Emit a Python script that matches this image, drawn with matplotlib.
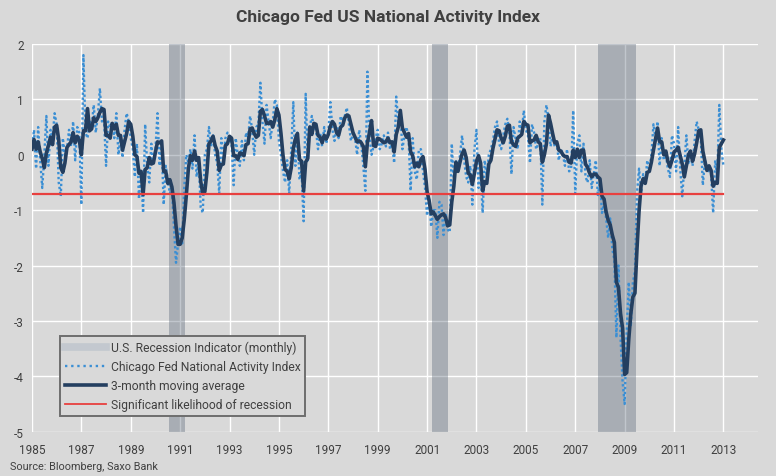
import numpy as np
import pandas as pd
import matplotlib
matplotlib.use('Agg')
import matplotlib.pyplot as plt
from matplotlib.lines import Line2D

# Chicago Fed National Activity Index, monthly from Jan 1985
cfnai_1985_1989 = [
    0.1, 0.45, -0.25, 0.5, -0.1, -0.6, 0.0, 0.7, -0.2, 0.45, 0.3, 0.75,
    0.55, -0.5, -0.75, 0.3, 0.0, 0.1, 0.45, 0.15, 0.6, -0.1, 0.5, 0.4,
    -0.9, 1.8, 0.4, 0.3, 0.6, 0.5, 0.9, 0.4, 0.7, 1.2, 0.6, 0.65,
    -0.2, 0.6, 0.5, 0.6, 0.3, 0.75, 0.0, 0.3, -0.05, 0.45, 0.75, 0.6,
    0.3, 0.1, -0.4, 0.2, -0.8, -0.3, -1.05, 0.55, -0.2, -0.5, 0.2, -0.15,
]
cfnai_1990_1999 = [
    0.1, 0.75, -0.2, 0.2, -0.9, -0.2, -0.45, -0.7, -0.6, -1.3, -1.95, -1.6,
    -1.3, -1.6, -0.6, 0.0, -0.15, 0.1, -0.25, 0.35, -0.4, -0.1, -0.95, -1.05,
    0.0, 0.1, 0.5, 0.15, 0.35, 0.0, -0.15, -0.7, 0.3, -0.1, 0.3, 0.4,
    0.3, 0.2, -0.55, 0.3, 0.0, -0.2, 0.25, -0.1, 0.4, 0.3, 0.7, 0.45,
    0.0, 0.5, 0.55, 1.3, 0.6, 0.2, 0.9, 0.6, 0.3, 0.6, 1.0, 0.9,
    0.25, 0.0, -0.3, -0.5, -0.1, -0.7, 0.1, 0.95, -0.2, 0.4, -0.45, -0.3,
    -1.2, 1.1, -0.1, 0.5, 0.7, 0.5, 0.45, 0.1, 0.4, 0.15, 0.5, 0.2,
    0.4, 0.95, 0.45, 0.25, 0.5, 0.3, 0.7, 0.6, 0.7, 0.85, 0.55, 0.25,
    0.4, 0.3, 0.0, 0.45, 0.2, -0.2, -0.65, 1.5, 0.35, 0.0, 0.15, 0.3,
    0.45, 0.1, 0.2, 0.35, 0.15, 0.4, 0.1, 0.2, -0.15, 1.05, 0.6, 0.75,
]
cfnai_2000_2009 = [
    0.1, 0.35, 0.5, 0.3, -0.65, 0.3, -0.3, -0.45, 0.1, 0.1, -0.3, -0.6,
    -1.1, -0.8, -1.3, -1.0, -1.0, -1.5, -0.85, -0.9, -1.45, -1.05, -1.35, -1.4,
    0.2, -0.5, -0.1, -0.3, 0.0, 0.35, -0.1, -0.4, -0.5, -0.2, -0.9, 0.1,
    0.45, -0.6, -0.3, -1.05, -0.1, -0.4, 0.0, 0.1, 0.25, 0.5, 0.6, 0.2,
    0.1, 0.35, 0.55, 0.65, 0.4, -0.35, 0.5, 0.3, 0.1, 0.6, 0.4, 0.8,
    0.45, 0.35, -0.15, 0.55, 0.4, 0.1, 0.2, 0.3, -0.9, 0.6, 0.9, 0.65,
    0.15, 0.35, 0.15, 0.2, -0.1, 0.1, 0.0, -0.2, 0.1, -0.3, -0.25, 0.8,
    -0.7, 0.2, 0.35, -0.3, 0.2, -0.4, -0.5, -0.1, -0.6, -0.35, -0.1, -0.75,
    -0.45, -1.05, -0.9, -1.15, -1.5, -1.15, -1.7, -1.9, -3.3, -2.0, -3.3, -4.1,
    -4.5, -3.2, -2.3, -3.1, -2.3, -2.1, -0.7, -0.25, -0.7, -0.35, -0.5, -0.1,
]
cfnai_2010_2013 = [
    -0.3, 0.0, 0.55, 0.3, 0.6, -0.2, 0.3, -0.1, 0.0, -0.25, -0.4, 0.35,
    0.2, -0.3, 0.5, -0.25, -0.75, -0.2, 0.35, -0.15, 0.0, -0.2, 0.25, 0.6,
    0.45, 0.3, -0.55, -0.1, -0.2, -0.3, -0.35, -1.05, -0.1, -0.4, 0.9, 0.1,
    -0.2,
]

# NBER recessions (decimal years)
rec_start = [1990.55, 2001.2, 2007.92]
rec_end = [1991.2, 2001.85, 2009.48]

threshold = -0.7
year_ticks = list(range(1985, 2014, 2))
y_ticks = list(range(-5, 3))

BG = '#d9d9d9'
TXT = '#404040'

plt.rcParams['font.family'] = ['Roboto', 'DejaVu Sans']
plt.rcParams['axes.unicode_minus'] = False

cfnai = pd.Series(cfnai_1985_1989 + cfnai_1990_1999 + cfnai_2000_2009 + cfnai_2010_2013)
ma3 = cfnai.rolling(3, min_periods=1).mean()
t = 1985 + np.arange(len(cfnai)) / 12.0

fig = plt.figure(figsize=(7.76, 4.77), dpi=100, facecolor=BG)
ax = fig.add_axes([0.0412, 0.0929, 0.9356, 0.8128])
ax.set_facecolor(BG)

for a, b in zip(rec_start, rec_end):
    ax.axvspan(a, b, color='#4e5d70', alpha=0.35, lw=0, zorder=1)

ax.plot(t, cfnai, color='#3b8fd4', lw=1.7, ls=(0, (1, 1.1)), zorder=3)
ax.plot(t, ma3, color='#243f60', lw=2.6, zorder=4)
ax.plot(t, np.full(len(t), threshold), color='#e8403f', lw=1.6, zorder=5)

ax.set_xlim(1985, 2014.4)
ax.set_ylim(-5, 2)
ax.set_xticks(year_ticks)
ax.set_xticklabels([str(y) for y in year_ticks])
ax.set_yticks(y_ticks)
ax.grid(True, color='white', lw=1)
ax.set_axisbelow(True)
for s in ax.spines.values():
    s.set_visible(False)
ax.tick_params(axis='both', length=0, labelsize=8.5, colors=TXT)
ax.tick_params(axis='x', pad=8)
ax.tick_params(axis='y', pad=6)

handles = [
    Line2D([], [], color='#c3c8cf', lw=5.5),
    Line2D([], [], color='#3b8fd4', lw=1.7, ls=(0, (1, 1.6))),
    Line2D([], [], color='#243f60', lw=2.6),
    Line2D([], [], color='#e8403f', lw=1.3),
]
labels = ['U.S. Recession Indicator (monthly)', 'Chicago Fed National Activity Index',
          '3-month moving average', 'Significant likelihood of recession']
leg = ax.legend(handles, labels, loc='lower left', bbox_to_anchor=(0.0386, 0.04),
                borderaxespad=0, fontsize=8.7, frameon=True, fancybox=False,
                facecolor=BG, edgecolor='#6e6e6e', framealpha=1,
                handlelength=3.4, handletextpad=0.4, labelspacing=0.5,
                borderpad=0.4, labelcolor=TXT)
leg.get_frame().set_linewidth(1.4)
leg.set_zorder(10)

fig.text(0.5, 0.964, 'Chicago Fed US National Activity Index', ha='center', va='center',
         fontsize=12.5, fontweight='bold', color=TXT)
fig.text(0.013, 0.021, 'Source: Bloomberg, Saxo Bank', ha='left', va='center',
         fontsize=7.8, color=TXT)

fig.savefig('out.png', dpi=100, facecolor=BG)
